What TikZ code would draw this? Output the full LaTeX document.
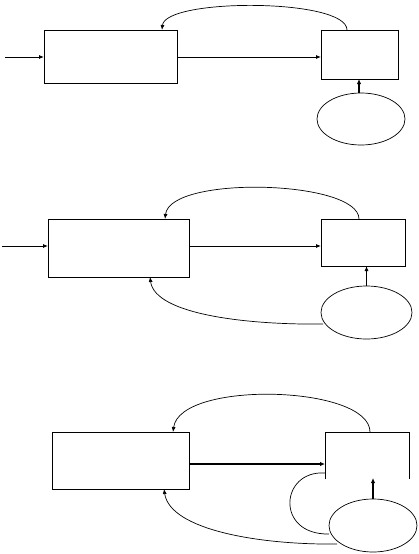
\documentclass[tikz,border=0pt]{standalone}
\usetikzlibrary{shapes.geometric,arrows.meta}
\begin{document}
\begin{tikzpicture}[x=1pt,y=-1pt,
  box/.style={draw,line width=0.8pt,rectangle,inner sep=0pt,outer sep=0pt},
  openbox/.style={rectangle,inner sep=0pt,outer sep=0pt},
  oval/.style={draw,line width=0.7pt,ellipse,inner sep=0pt,outer sep=0pt},
  conn/.style={line width=0.8pt,-{Latex[length=5pt,width=4pt]}},
  thickconn/.style={line width=1.6pt,-{Latex[length=5pt,width=4.5pt]}},
  curve/.style={line width=0.7pt},
  curvearrow/.style={line width=0.7pt,-{Latex[length=5pt,width=4pt]}}]
\useasboundingbox (0,0) rectangle (418,554);

% ---------- diagram 1 ----------
\node[box,minimum width=133pt,minimum height=53pt] (A1) at (110.5,56.5) {};
\node[box,minimum width=77pt,minimum height=49pt] (B1) at (359.5,54.5) {};
\node[oval,minimum width=88pt,minimum height=52pt] (C1) at (361,119) {};
\coordinate (in1) at (5,57);
\draw[conn] (in1) -- (A1.west |- in1);
\draw[conn] (A1.east |- in1) -- (B1.west |- in1);
\draw[curvearrow] (B1.north -| 347,0) .. controls (347,-2) and (165,-2) .. (A1.north -| 162,0);
\draw[thickconn] (C1.north -| 359,0) -- (B1.south -| 359,0);

% ---------- diagram 2 ----------
\node[box,minimum width=141pt,minimum height=58pt] (A2) at (118.5,248) {};
\node[box,minimum width=84pt,minimum height=47pt] (B2) at (363,242.5) {};
\node[oval,minimum width=91pt,minimum height=53pt] (C2) at (366.5,312.5) {};
\coordinate (in2) at (2,246);
\draw[conn] (in2) -- (A2.west |- in2);
\draw[conn] (A2.east |- in2) -- (B2.west |- in2);
\draw[curvearrow] (B2.north -| 359,0) .. controls (359,180) and (170,175) .. (A2.north -| 165,0);
\draw[conn] (C2.north) -- (B2.south -| C2.north);
\draw[curvearrow] (323,324) .. controls (250,325) and (155,315) .. (A2.south -| 150,0);

% ---------- diagram 3 ----------
\node[box,minimum width=137pt,minimum height=57pt] (A3) at (120.5,460.5) {};
\node[openbox,minimum width=84pt,minimum height=47pt] (B3) at (367,455.5) {};
\draw[line width=0.8pt] (B3.south west) -- (B3.north west) -- (B3.north east) -- (B3.south east);
\node[oval,minimum width=88pt,minimum height=53pt] (C3) at (373,525.5) {};
\coordinate (m3) at (0,464);
\draw[thickconn] (A3.east |- m3) -- (B3.west |- m3);
\draw[curvearrow] (B3.north -| 370,0) .. controls (370,385) and (180,380) .. (A3.north -| 173,0);
\draw[thickconn] (C3.north) -- (373,478);
\draw[curve] (B3.west |- 0,473) .. controls (280,470) and (275,535) .. (329,534);
\draw[curvearrow] (337,544) .. controls (260,545) and (170,530) .. (A3.south -| 164,0);
\end{tikzpicture}
\end{document}
